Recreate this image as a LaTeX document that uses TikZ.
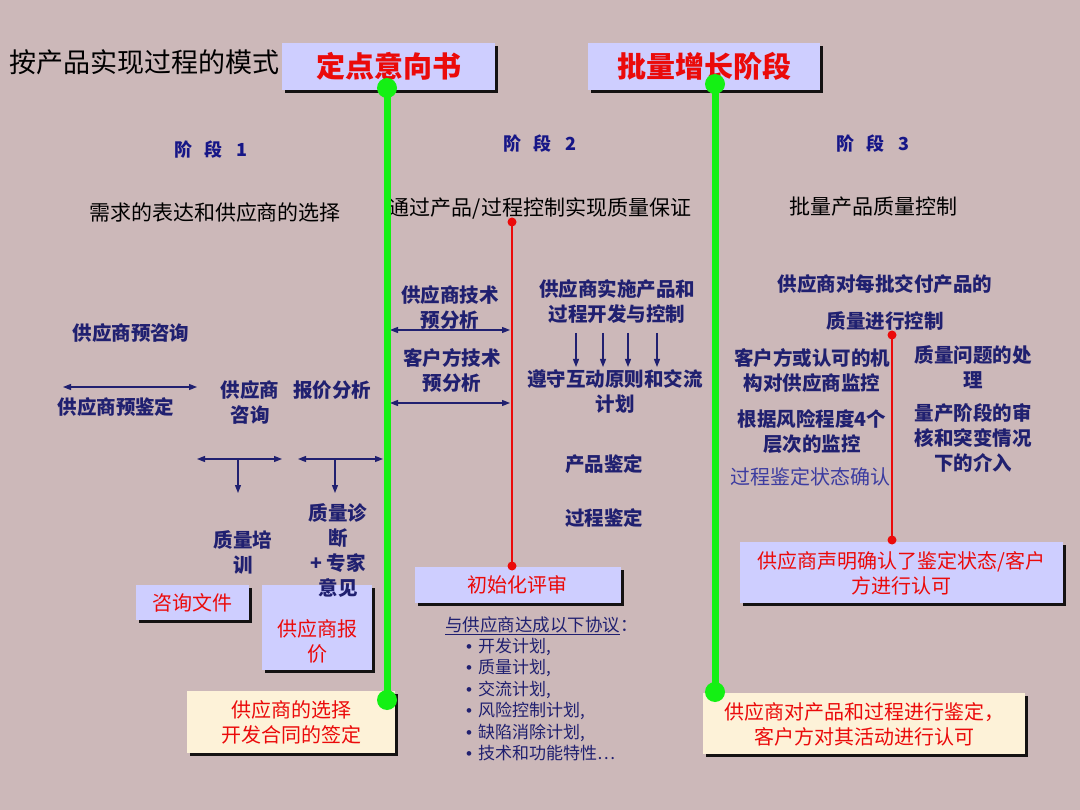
\documentclass[tikz,border=0pt]{standalone}
\usepackage{fontspec}
\setmainfont{Noto Sans CJK SC}
\newfontfamily\latf{Liberation Sans}
\usetikzlibrary{arrows.meta,shadows}
\definecolor{bg}{RGB}{204,184,185}
\definecolor{navy}{RGB}{32,32,112}
\definecolor{stageblue}{RGB}{22,22,135}
\definecolor{lav}{RGB}{206,206,255}
\definecolor{cream}{RGB}{253,242,216}
\definecolor{gr}{RGB}{20,240,20}
\definecolor{rd}{RGB}{235,10,10}
\definecolor{lblue}{RGB}{60,60,160}
\newcommand{\bul}{{\latf\textbullet}\hspace{6pt}}
\begin{document}
\begin{tikzpicture}[x=1pt,y=-1pt,
  lbl/.style={font=\bfseries\fontsize{19.5}{25}\selectfont, text=navy, align=center, inner sep=0},
  plain/.style={font=\fontsize{21}{25}\selectfont, text=black, inner sep=0},
  stage/.style={font=\bfseries\fontsize{18}{22}\selectfont, text=stageblue, inner sep=0},
  shbox/.style={draw=none, inner sep=0, drop shadow={shadow xshift=3pt,shadow yshift=-3pt,fill=black,opacity=0.9}},
  lbox/.style={shbox, fill=lav},
  cbox/.style={shbox, fill=cream},
  rtext/.style={font=\fontsize{20}{24.5}\selectfont, text=rd, align=center, inner sep=0},
  toptext/.style={font=\bfseries\fontsize{29}{32}\selectfont, text=rd, inner sep=0},
  gdot/.style={circle, fill=gr, minimum size=20pt, inner sep=0},
  rdot/.style={circle, fill=rd, minimum size=9pt, inner sep=0},
  gline/.style={draw=gr, line width=7pt},
  rline/.style={draw=rd, line width=2pt},
  darr/.style={draw=navy, line width=1.3pt, {Triangle[length=8pt,width=6pt]}-{Triangle[length=8pt,width=6pt]}},
  sarr/.style={draw=navy, line width=1.3pt, -{Triangle[length=8pt,width=6pt]}},
]
\fill[bg] (0,0) rectangle (1080,810);
\useasboundingbox (0,0) rectangle (1080,810);

% title
\node[anchor=west, font=\fontsize{27}{30}\selectfont, text=black, inner sep=0] (title) at (9,62) {按产品实现过程的模式};

% top boxes
\node[lbox, minimum width=213pt, minimum height=47pt] (ddbox) at (388.5,66.5) {};
\node[toptext] (dd) at (388.5,66.5) {定点意向书};
\node[lbox, minimum width=232pt, minimum height=47pt] (plbox) at (704,66.5) {};
\node[toptext] (pl) at (704,66.5) {批量增长阶段};

% stages
\node[stage] (s1) at (211,150) {阶\hspace{12pt}段\hspace{14pt}1};
\node[stage] (s2) at (540,144) {阶\hspace{12pt}段\hspace{14pt}2};
\node[stage] (s3) at (873,144) {阶\hspace{12pt}段\hspace{14pt}3};

\node[plain] (h1) at (215,213) {需求的表达和供应商的选择};
\node[plain] (h2) at (540,208) {通过产品/过程控制实现质量保证};
\node[plain] (h3) at (873,207) {批量产品质量控制};

% stage 1 labels
\node[lbl] (yzx) at (131,333) {供应商预咨询};
\node[lbl] (yjd) at (116,407) {供应商预鉴定};
\node[lbl] (zx) at (250,402.5) {供应商\\咨询};
\node[lbl] (bjfx) at (332,390) {报价分析};
\node[lbl] (px) at (243,552.5) {质量培\\训};
\node[lbl] (zd) at (338,538) {质量诊\\断\\+ 专家};

% stage 1 arrows
\coordinate (a1l) at (63,387); \coordinate (a1r) at (197,387);
\draw[darr] (a1l) -- (a1r);
\coordinate (a2l) at (197,459); \coordinate (a2r) at (282,459);
\coordinate (a2t) at (238,460); \coordinate (a2b) at (238,493);
\draw[darr] (a2l) -- (a2r);
\draw[sarr] (a2t) -- (a2b);
\coordinate (a3l) at (298,459); \coordinate (a3r) at (383,459);
\coordinate (a3t) at (335,460); \coordinate (a3b) at (335,493);
\draw[darr] (a3l) -- (a3r);
\draw[sarr] (a3t) -- (a3b);

% stage 1 boxes
\node[lbox, minimum width=113pt, minimum height=35pt] (zxwjbox) at (192.5,602.5) {};
\node[rtext] (zxwj) at (192.5,602.5) {咨询文件};
\node[lbox, minimum width=110pt, minimum height=85pt] (bjbox) at (317,627.5) {};
\node[rtext] (bj) at (317,641.5) {供应商报\\价};
\node[lbl] (zdyj) at (338,588) {意见};
\node[cbox, minimum width=208pt, minimum height=62pt] (xzbox) at (291,722) {};
\node[rtext] (xz) at (291,722.5) {供应商的选择\\开发合同的签定};

% stage 2
\node[lbl] (gjs) at (450,308) {供应商技术\\预分析};
\node[lbl] (kjs) at (452,370) {客户方技术\\预分析};
\coordinate (b1l) at (390,330); \coordinate (b1r) at (510,330);
\draw[darr] (b1l) -- (b1r);
\coordinate (b2l) at (390,403); \coordinate (b2r) at (510,403);
\draw[darr] (b2l) -- (b2r);

\node[lbl] (ss) at (617,301) {供应商实施产品和\\过程开发与控制};
\node[lbl] (zs) at (615,391) {遵守互动原则和交流\\计划};
\foreach \i/\xx in {1/576,2/603,3/628,4/657}{
  \coordinate (d\i t) at (\xx,333); \coordinate (d\i b) at (\xx,367);
  \draw[sarr] (d\i t) -- (d\i b);
}
\node[lbl] (cpjd) at (604,464) {产品鉴定};
\node[lbl] (gcjd) at (604,518) {过程鉴定};

\node[lbox, minimum width=206pt, minimum height=36pt] (cshbox) at (518,585) {};
\node[rtext] (csh) at (517,585) {初始化评审};

\node[anchor=west, inner sep=0, font=\fontsize{17.5}{21}\selectfont, text=navy] (xy) at (445,626) {\underline{与供应商达成以下协议}：};
\node[anchor=north west, inner sep=0, align=left, font=\fontsize{17}{21.4}\selectfont, text=navy] (list) at (466,638) {\bul 开发计划,\\\bul 质量计划,\\\bul 交流计划,\\\bul 风险控制计划,\\\bul 缺陷消除计划,\\\bul 技术和功能特性…};

% stage 3
\node[lbl] (mp) at (885,284) {供应商对每批交付产品的};
\node[lbl] (zlkz) at (885,321) {质量进行控制};
\node[lbl] (khjk) at (812,371) {客户方或认可的机\\构对供应商监控};
\node[lbl] (zlwt) at (973,367) {质量问题的处\\理};
\node[lbl] (fx) at (812,431.5) {根据风险程度4个\\层次的监控};
\node[lbl] (lc) at (973,438) {量产阶段的审\\核和突变情况\\下的介入};
\node[inner sep=0, font=\fontsize{20}{24}\selectfont, text=lblue] (zt) at (810,477) {过程鉴定状态确认};

\node[lbox, minimum width=323pt, minimum height=61pt] (smbox) at (901.5,572.5) {};
\node[rtext] (sm) at (901.5,573.5) {供应商声明确认了鉴定状态/客户\\方进行认可};
\node[cbox, minimum width=322pt, minimum height=61pt] (jdbox) at (864,723.5) {};
\node[rtext] (jd) at (864,724.5) {供应商对产品和过程进行鉴定，\\客户方对其活动进行认可};

% red lines
\node[rdot] (r1t) at (512,222) {};
\node[rdot] (r1b) at (512,566) {};
\draw[rline] (r1t.center) -- (r1b.center);
\node[rdot] (r2t) at (892,335) {};
\node[rdot] (r2b) at (892,540) {};
\draw[rline] (r2t.center) -- (r2b.center);

% green lines
\node[gdot] (g1t) at (387,88) {};
\node[gdot] (g1b) at (387,700) {};
\draw[gline] (g1t.center) -- (g1b.center);
\node[gdot] (g2t) at (715,84) {};
\node[gdot] (g2b) at (715,692) {};
\draw[gline] (g2t.center) -- (g2b.center);
\end{tikzpicture}
\end{document}
